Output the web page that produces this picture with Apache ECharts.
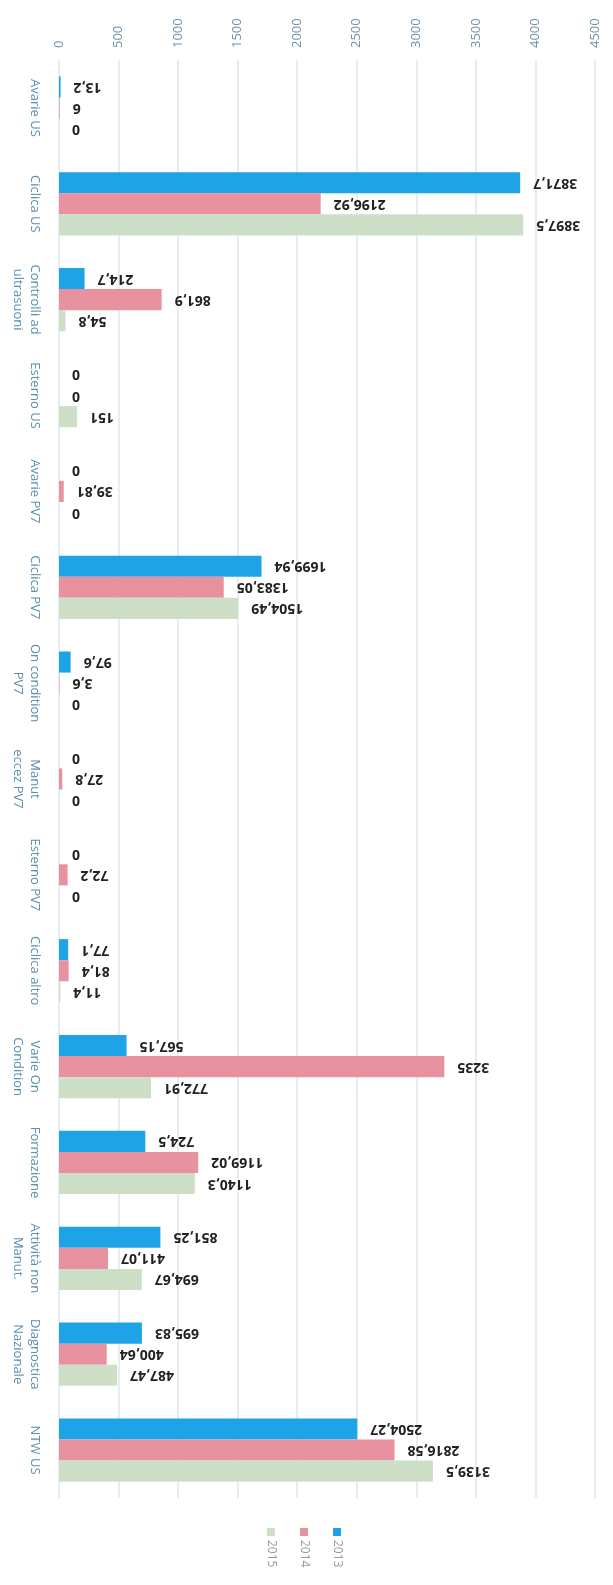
<!DOCTYPE html>
<html>
<head>
<meta charset="utf-8">
<script src="https://cdn.jsdelivr.net/npm/echarts@6/dist/echarts.min.js"></script>
<style>
  html, body { margin: 0; padding: 0; background: #fff; }
  #chart { width: 613px; height: 1585px; }
</style>
</head>
<body>
<div id="chart"></div>
<script>
// categorie (dall'alto in basso)
var categories = [
  'Avarie US', 'Ciclica US', 'Controlli ad\nultrasuoni', 'Esterno US', 'Avarie PV7',
  'Ciclica PV7', 'On condition\nPV7', 'Manut\neccez PV7', 'Esterno PV7', 'Ciclica altro',
  'Varie On\nCondition', 'Formazione', 'Attività non\nManut.', 'Diagnostica\nNazionale', 'NTW US'
];
var years = ['2013', '2014', '2015'];
var values2013 = [13.2, 3871.7, 214.7, 0, 0, 1699.94, 97.6, 0, 0, 77.1, 567.15, 724.5, 851.25, 695.83, 2504.27];
var values2014 = [6, 2196.92, 861.9, 0, 39.81, 1383.05, 3.6, 27.8, 72.2, 81.4, 3235, 1169.02, 411.07, 400.64, 2816.58];
var values2015 = [0, 3897.5, 54.8, 151, 0, 1504.49, 0, 0, 0, 11.4, 772.91, 1140.3, 694.67, 487.47, 3139.5];
var colors = ['#1ea3e6', '#e8929f', '#cddfc6'];

var chartDom = document.getElementById('chart');
var myChart = echarts.init(chartDom);

// etichette dei valori: virgola decimale, ruotate di 180
function makeSeries(name, data, color) {
  return {
    name: name,
    type: 'bar',
    data: data,
    barGap: '0%',
    barCategoryGap: '34%',
    itemStyle: { color: color },
    label: {
      show: true,
      position: 'right',
      distance: 13,
      rotate: 180,
      align: 'right',
      verticalAlign: 'middle',
      color: '#222',
      fontWeight: 'bold',
      fontSize: 14,
      fontFamily: 'Open Sans',
      formatter: function (p) { return String(p.value).replace('.', ','); }
    }
  };
}

// legenda disegnata a mano (testo ruotato)
var legendItems = years.map(function (y, i) {
  return {
    type: 'group',
    x: 337 - i * 33,
    y: 1528,
    rotation: -Math.PI / 2,
    children: [
      { type: 'rect', shape: { x: 0, y: -4, width: 8, height: 8 }, style: { fill: colors[i] } },
      {
        type: 'text', x: 12, y: 0,
        style: {
          text: y, fill: '#8d9aa6', fontSize: 12, fontFamily: 'Open Sans',
          align: 'left', verticalAlign: 'middle'
        }
      }
    ]
  };
});

var option = {
  animation: false,
  backgroundColor: '#fff',
  grid: { left: 59, right: 18, top: 60, bottom: 87, containLabel: false },
  xAxis: {
    type: 'value',
    position: 'top',
    min: 0,
    max: 4500,
    interval: 500,
    axisLine: { show: false },
    axisTick: { show: false },
    axisLabel: {
      rotate: -90,
      margin: 12,
      color: '#6f91a6',
      fontSize: 13,
      fontFamily: 'Open Sans',
      formatter: function (v) { return String(v); }
    },
    splitLine: { show: true, lineStyle: { color: '#dde9f3', width: 1.5 } }
  },
  yAxis: {
    type: 'category',
    data: categories,
    inverse: true,
    axisLine: { show: false },
    axisTick: { show: false },
    axisLabel: {
      interval: 0,
      rotate: -90,
      margin: 16,
      color: '#5b8fac',
      fontSize: 13,
      lineHeight: 17,
      fontFamily: 'Open Sans'
    }
  },
  series: [
    makeSeries(years[0], values2013, colors[0]),
    makeSeries(years[1], values2014, colors[1]),
    makeSeries(years[2], values2015, colors[2])
  ],
  graphic: legendItems
};
option && myChart.setOption(option);
</script>
</body>
</html>
